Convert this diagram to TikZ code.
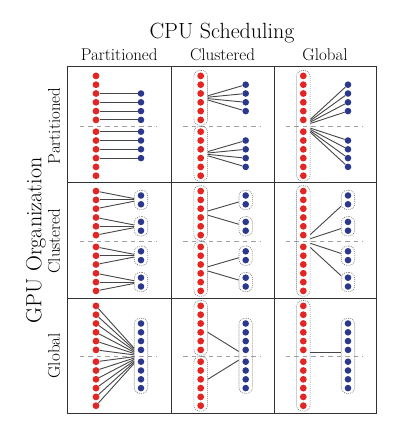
\documentclass[tikz,border=0pt]{standalone}
\usepackage{fontspec}
\usetikzlibrary{fit}
\definecolor{dred}{RGB}{226,38,36}
\definecolor{dblue}{RGB}{44,56,142}
\definecolor{gridc}{RGB}{50,50,50}
\definecolor{dashc}{RGB}{160,160,160}
\definecolor{linec}{RGB}{70,70,70}
\definecolor{boxc}{RGB}{120,120,120}
% 12 red dots of a cell: #1 name prefix, #2 x, #3 centre y
\newcommand{\redcol}[3]{%
  \foreach \i/\o in {1/-49.9,2/-41.1,3/-32.3,4/-23.5,5/-14.7,6/-5.9,7/5.9,8/14.7,9/23.5,10/32.3,11/41.1,12/49.9}
    {\node[rdot] (#1-\i) at (#2,{#3+(\o)}) {};}}
% 8 blue dots aligned with red 3..10
\newcommand{\bluemid}[3]{%
  \foreach \i/\o in {3/-32.3,4/-23.5,5/-14.7,6/-5.9,7/5.9,8/14.7,9/23.5,10/32.3}
    {\node[bdot] (#1-\i) at (#2,{#3+(\o)}) {};}}
% 8 blue dots aligned with red 2..5 and 8..11
\newcommand{\bluesplit}[3]{%
  \foreach \i/\o in {2/-41.1,3/-32.3,4/-23.5,5/-14.7,8/14.7,9/23.5,10/32.3,11/41.1}
    {\node[bdot] (#1-\i) at (#2,{#3+(\o)}) {};}}
% 4 blue pairs in boxes
\newcommand{\bluepairs}[3]{%
  \foreach \p/\o in {1/-41.1,2/-14.7,3/14.7,4/41.1}{%
    \node[bdot] (#1-\p u) at (#2,{#3+(\o)-4.4}) {};
    \node[bdot] (#1-\p l) at (#2,{#3+(\o)+4.4}) {};
    \node[grp,fit=(#1-\p u)(#1-\p l)] (#1-g\p) {};}}
\begin{document}
\begin{tikzpicture}[x=1pt,y=-1pt,
  rdot/.style={circle,fill=dred,inner sep=0pt,minimum size=6.8pt},
  bdot/.style={circle,fill=dblue,inner sep=0pt,minimum size=6.6pt},
  grp/.style={draw=boxc,line width=0.65pt,dash pattern=on 0.9pt off 1.1pt,rounded corners=6pt,inner xsep=3.2pt,inner ysep=1.8pt},
  conn/.style={draw=linec,line width=0.9pt},
  mid/.style={draw=dashc,line width=1.1pt,dash pattern=on 4.5pt off 4pt},
  gridline/.style={draw=gridc,line width=1pt},
  ttl/.style={font=\fontsize{22}{26}\selectfont},
  hdr/.style={font=\fontsize{17}{20}\selectfont}]
\useasboundingbox (0,0) rectangle (392,435);
\fill[white] (0,0) rectangle (392,435);

% dashed mid lines
\foreach \cx in {119.25,222.5,325}
  \foreach \cy in {126.3,241.5,356.3}
    \draw[mid] ({\cx-39.5},\cy) -- ({\cx+38},\cy);

% grid
\draw[gridline] (67.5,67) rectangle (376,413);
\draw[gridline] (171,67) -- (171,413);
\draw[gridline] (274,67) -- (274,413);
\draw[gridline] (67.5,183) -- (376,183);
\draw[gridline] (67.5,298) -- (376,298);

% labels
\node[ttl] (title) at (222,33) {CPU Scheduling};
\node[hdr] (h1) at (119.25,55) {Partitioned};
\node[hdr] (h2) at (222.5,55) {Clustered};
\node[hdr] (h3) at (325,55) {Global};
\node[ttl,rotate=90] (gpu) at (36,240.5) {GPU Organization};
\node[hdr,rotate=90] (v1) at (54,125.8) {Partitioned};
\node[hdr,rotate=90] (v2) at (54,241) {Clustered};
\node[hdr,rotate=90] (v3) at (54,355.8) {Global};

% ---------- row 1 ----------
% (1,1)
\redcol{r11}{96}{125.8}
\bluemid{b11}{141}{125.8}
\foreach \j in {3,...,10} \draw[conn] (r11-\j) -- (b11-\j);
% (1,2)
\redcol{r12}{200.7}{125.8}
\node[grp,fit=(r12-1)(r12-6)] (g12a) {};
\node[grp,fit=(r12-7)(r12-12)] (g12b) {};
\bluesplit{b12}{245.7}{125.8}
\foreach \j in {2,3,4,5} \draw[conn] (g12a) -- (b12-\j);
\foreach \j in {8,9,10,11} \draw[conn] (g12b) -- (b12-\j);
% (1,3)
\redcol{r13}{303.3}{125.8}
\node[grp,fit=(r13-1)(r13-12)] (g13) {};
\bluesplit{b13}{348}{125.8}
\foreach \j in {2,3,4,5,8,9,10,11} \draw[conn] (g13) -- (b13-\j);

% ---------- row 2 ----------
% (2,1)
\redcol{r21}{96}{241}
\bluepairs{b21}{141}{241}
\foreach \i/\p in {1/1,2/1,3/1,4/2,5/2,6/2,7/3,8/3,9/3,10/4,11/4,12/4}
  \draw[conn] (r21-\i) -- (b21-g\p);
% (2,2)
\redcol{r22}{200.7}{241}
\node[grp,fit=(r22-1)(r22-6)] (g22a) {};
\node[grp,fit=(r22-7)(r22-12)] (g22b) {};
\bluepairs{b22}{245.7}{241}
\draw[conn] (g22a) -- (b22-g1);
\draw[conn] (g22a) -- (b22-g2);
\draw[conn] (g22b) -- (b22-g3);
\draw[conn] (g22b) -- (b22-g4);
% (2,3)
\redcol{r23}{303.3}{241}
\node[grp,fit=(r23-1)(r23-12)] (g23) {};
\bluepairs{b23}{348}{241}
\foreach \p in {1,2,3,4} \draw[conn] (g23) -- (b23-g\p);

% ---------- row 3 ----------
% (3,1)
\redcol{r31}{96}{355.8}
\bluemid{b31}{141}{355.8}
\node[grp,fit=(b31-3)(b31-10)] (g31) {};
\foreach \i in {1,...,12} \draw[conn] (r31-\i) -- (g31);
% (3,2)
\redcol{r32}{200.7}{355.8}
\node[grp,fit=(r32-1)(r32-6)] (g32a) {};
\node[grp,fit=(r32-7)(r32-12)] (g32b) {};
\bluemid{b32}{245.7}{355.8}
\node[grp,fit=(b32-3)(b32-10)] (g32c) {};
\draw[conn] (g32a) -- (g32c);
\draw[conn] (g32b) -- (g32c);
% (3,3)
\redcol{r33}{303.3}{355.8}
\node[grp,fit=(r33-1)(r33-12)] (g33a) {};
\bluemid{b33}{348}{355.8}
\node[grp,fit=(b33-3)(b33-10)] (g33b) {};
\draw[conn] ([yshift=3.5pt]g33a.east) -- ([yshift=3.5pt]g33b.west);
\end{tikzpicture}
\end{document}
